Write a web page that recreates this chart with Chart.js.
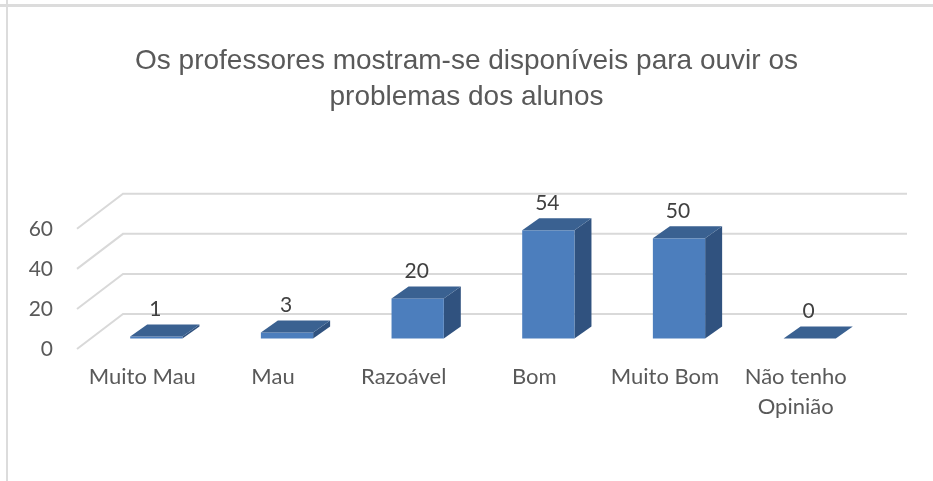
<!DOCTYPE html>
<html>
<head>
<meta charset="utf-8">
<script src="https://cdn.jsdelivr.net/npm/chart.js@4.4.0/dist/chart.umd.min.js"></script>
<style>
  html, body { margin: 0; padding: 0; background: #fff; }
  #wrap { position: relative; width: 933px; height: 481px; overflow: hidden; }
  .hline { position: absolute; left: 0; top: 4px; width: 933px; height: 3px; background: #dcdcdc; }
  .vline { position: absolute; left: 6px; top: 0; width: 2px; height: 481px; background: #dcdcdc; }
  #chart { position: absolute; left: 0; top: 0; }
</style>
</head>
<body>
<div id="wrap">
  <div class="hline"></div>
  <div class="vline"></div>
  <canvas id="chart" width="933" height="481"></canvas>
</div>
<script>
const chartTitle = ["Os professores mostram-se disponíveis para ouvir os", "problemas dos alunos"];
const categories = ["Muito Mau", "Mau", "Razoável", "Bom", "Muito Bom", ["Não tenho", "Opinião"]];
const respostas = [1, 3, 20, 54, 50, 0];
const yTicks = [0, 20, 40, 60];

const textColor = "#595959";
const gridColor = "#d9d9d9";

// fake 3D: how far the back wall and the bars sit behind the front plane
const wall = { dx: 46, dy: -35 };
const shift = { dx: 14, dy: -10.5 };
const depth = { dx: 17, dy: -12 };

const bars3d = {
  id: "bars3d",
  beforeDatasetsDraw(chart) {
    const { ctx, chartArea, scales } = chart;
    const y = scales.y;
    ctx.save();
    ctx.strokeStyle = gridColor;
    ctx.lineWidth = 2;
    yTicks.forEach((v) => {
      const py = y.getPixelForValue(v);
      ctx.beginPath();
      ctx.moveTo(chartArea.left, py);
      ctx.lineTo(chartArea.left + wall.dx, py + wall.dy);
      ctx.lineTo(chartArea.right + wall.dx, py + wall.dy);
      ctx.stroke();
    });
    ctx.restore();
  },
  afterDatasetsDraw(chart) {
    const { ctx } = chart;
    const meta = chart.getDatasetMeta(0);
    ctx.save();
    meta.data.forEach((bar, i) => {
      const left = bar.x - bar.width / 2 + shift.dx;
      const right = left + bar.width;
      const top = bar.y + shift.dy;
      const bottom = bar.base + shift.dy;

      // side face
      ctx.fillStyle = "#30527f";
      ctx.beginPath();
      ctx.moveTo(right, bottom);
      ctx.lineTo(right + depth.dx, bottom + depth.dy);
      ctx.lineTo(right + depth.dx, top + depth.dy);
      ctx.lineTo(right, top);
      ctx.closePath();
      ctx.fill();

      // front face
      if (bottom - top > 0.5) {
        ctx.fillStyle = "#4c7ebd";
        ctx.fillRect(left, top, bar.width, bottom - top);
      }

      // top face
      ctx.fillStyle = "#3a6191";
      ctx.beginPath();
      ctx.moveTo(left, top);
      ctx.lineTo(right, top);
      ctx.lineTo(right + depth.dx, top + depth.dy);
      ctx.lineTo(left + depth.dx, top + depth.dy);
      ctx.closePath();
      ctx.fill();

      // value label
      ctx.fillStyle = "#404040";
      ctx.font = "21px Lato";
      ctx.textAlign = "center";
      ctx.textBaseline = "middle";
      ctx.fillText(String(respostas[i]), left + bar.width / 2 - 1, top + depth.dy - 15);
    });
    ctx.restore();
  }
};

new Chart(document.getElementById("chart"), {
  type: "bar",
  data: {
    labels: categories,
    datasets: [{
      data: respostas,
      backgroundColor: "rgba(0,0,0,0)",
      borderWidth: 0,
      barPercentage: 0.4,
      categoryPercentage: 1
    }]
  },
  options: {
    responsive: false,
    animation: false,
    events: [],
    layout: { padding: 0 },
    plugins: {
      legend: { display: false },
      tooltip: { enabled: false },
      title: {
        display: true,
        text: chartTitle,
        color: textColor,
        font: { family: "'Liberation Sans', Arial, sans-serif", size: 28, weight: "normal", lineHeight: 1.3 },
        padding: { top: 43, bottom: 113 }
      }
    },
    scales: {
      x: {
        grid: { display: false, drawTicks: false },
        border: { display: false },
        ticks: {
          color: textColor,
          padding: 13,
          maxRotation: 0,
          autoSkip: false,
          font: { family: "Lato", size: 22, lineHeight: 1.36 }
        },
        afterFit(scale) { scale.height = 132; }
      },
      y: {
        min: 0,
        max: 60,
        grid: { display: false, drawTicks: false },
        border: { display: false },
        ticks: {
          stepSize: 20,
          color: textColor,
          padding: 24,
          font: { family: "Lato", size: 21 }
        },
        afterFit(scale) { scale.width = 77; }
      },
      // empty right axis, only reserves the space right of the floor
      y2: {
        position: "right",
        grid: { display: false, drawTicks: false },
        border: { display: false },
        ticks: { display: false },
        afterFit(scale) { scale.width = 72; }
      }
    }
  },
  plugins: [bars3d]
});
</script>
</body>
</html>
